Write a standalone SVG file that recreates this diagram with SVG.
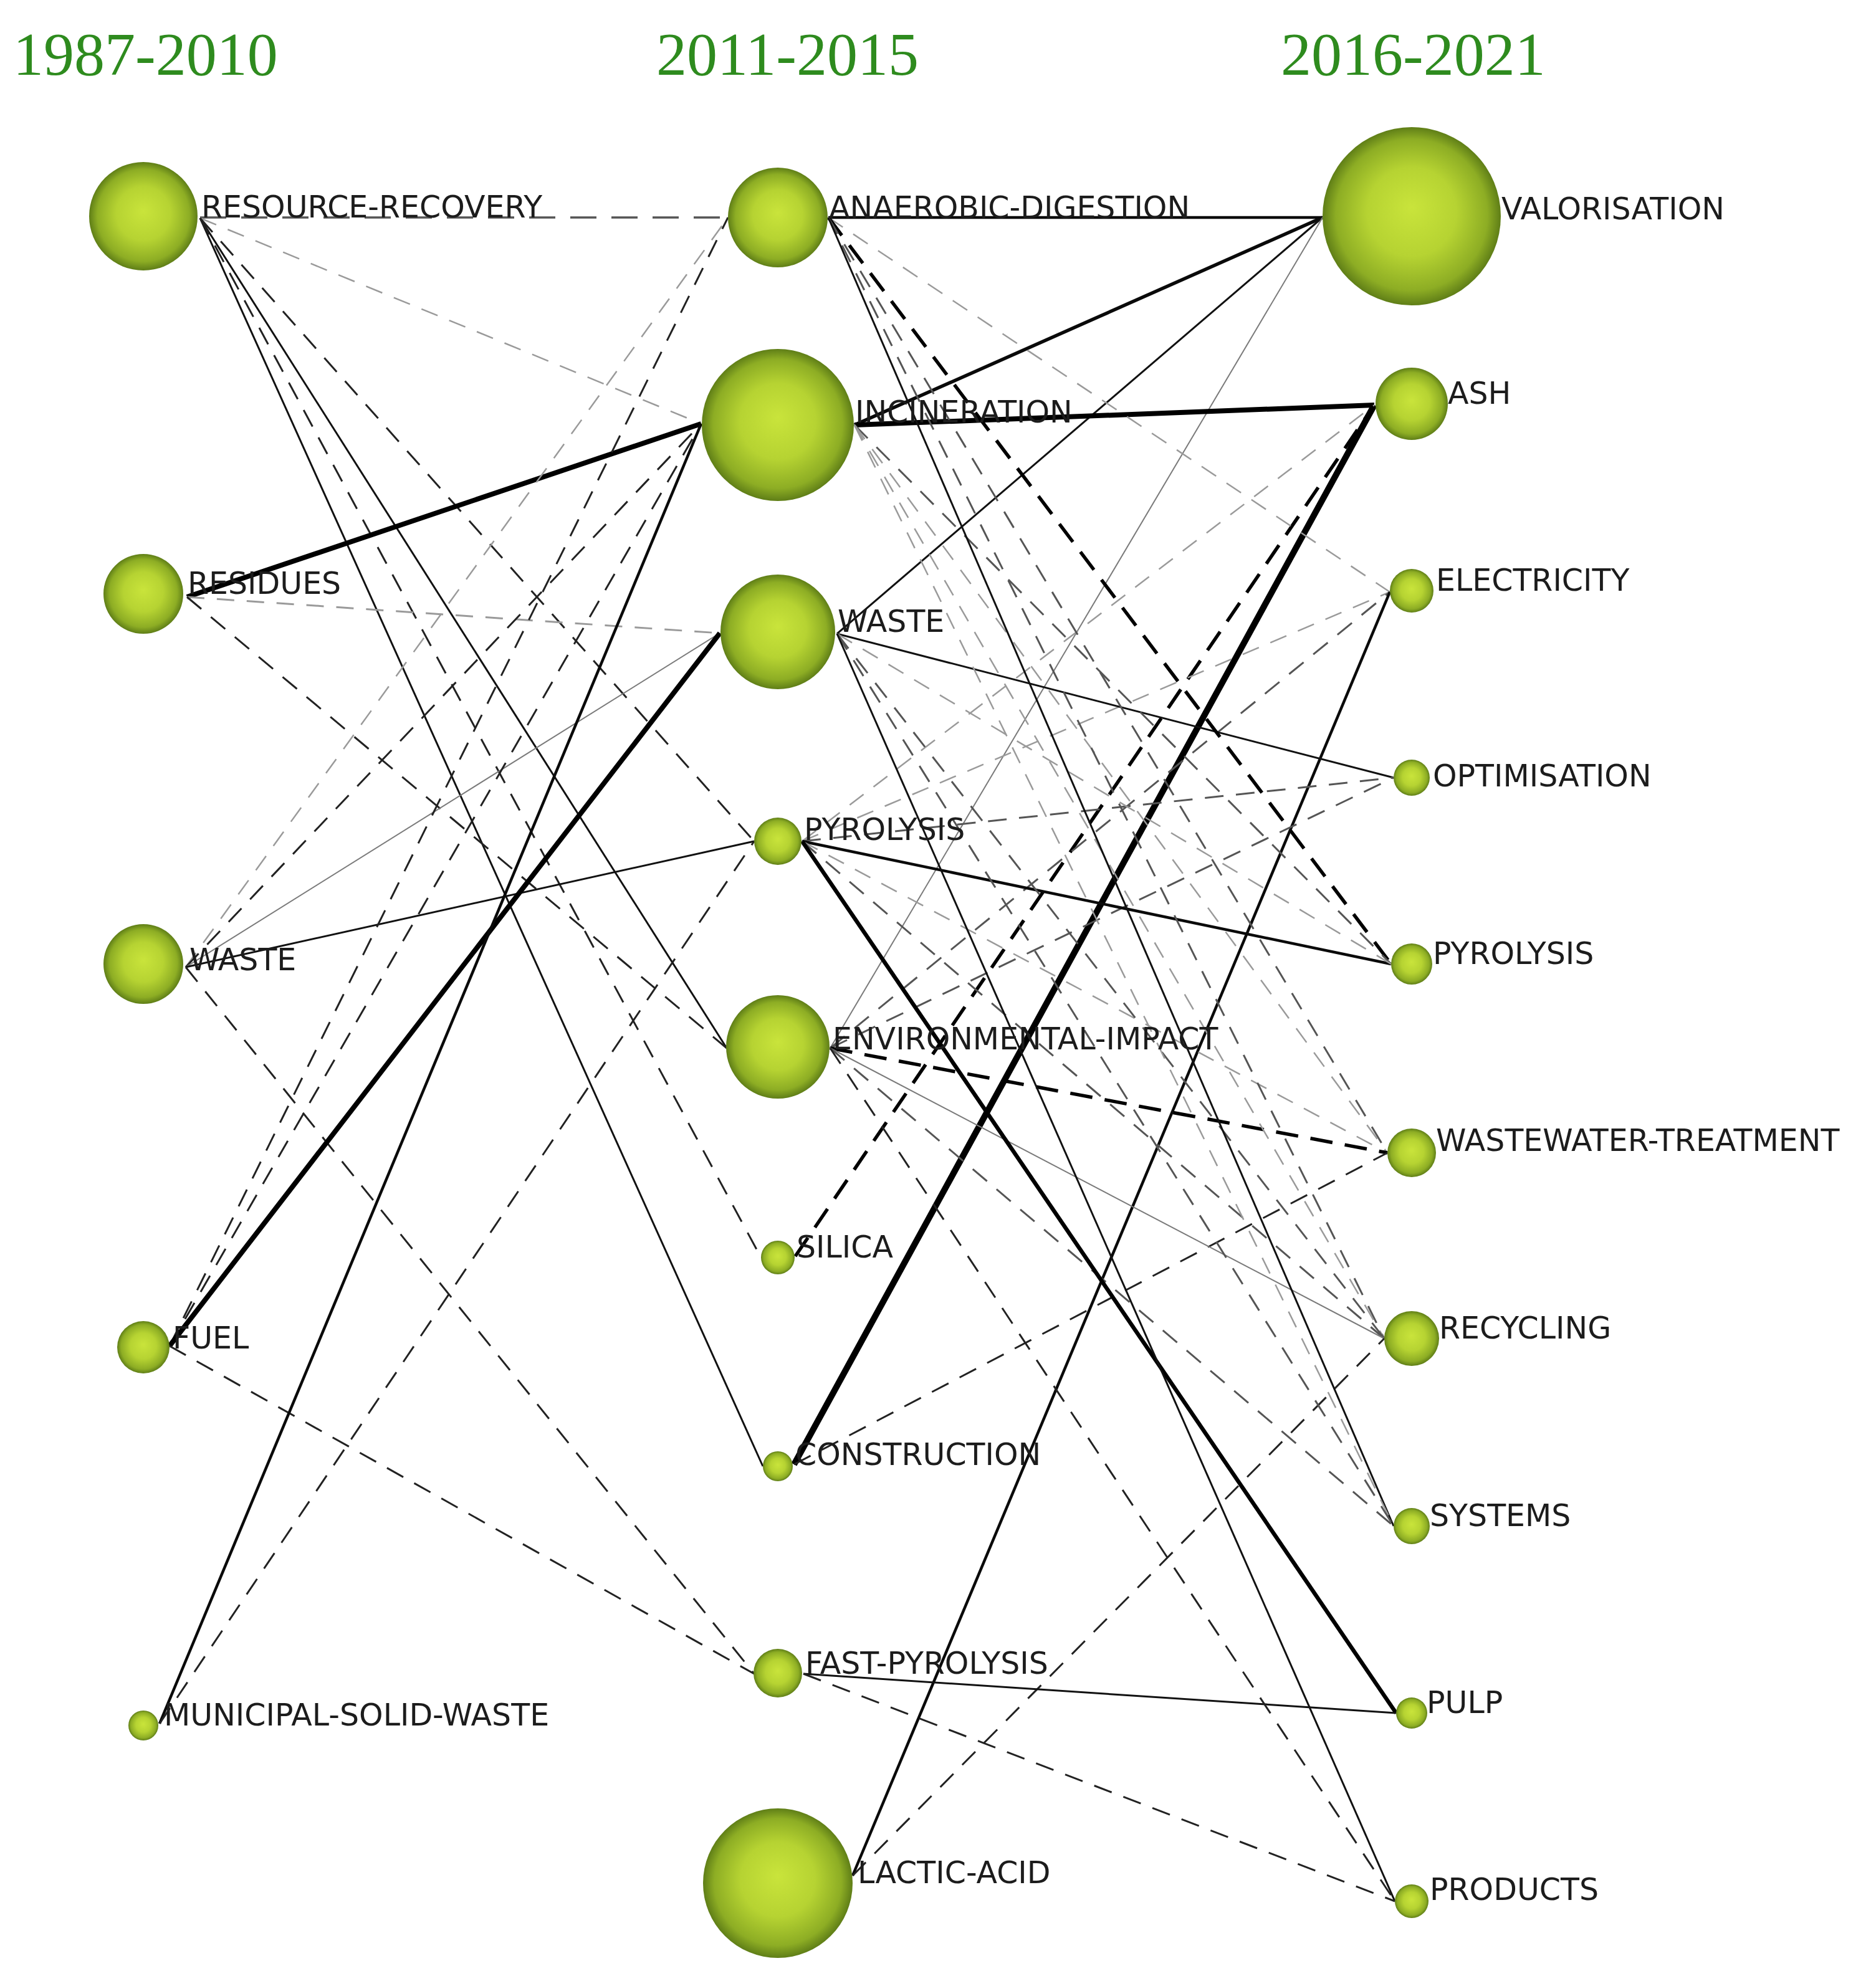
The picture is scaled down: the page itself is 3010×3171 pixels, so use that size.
<svg xmlns="http://www.w3.org/2000/svg" width="3010" height="3171" viewBox="0 0 3010 3171">
<defs>
<radialGradient id="ball" cx="0.5" cy="0.5" r="0.5" fx="0.5" fy="0.45">
<stop offset="0" stop-color="#c9e43b"/>
<stop offset="0.5" stop-color="#b6d332"/>
<stop offset="0.85" stop-color="#8dad24"/>
<stop offset="1" stop-color="#5f7e17"/>
</radialGradient>
<style>
.title{font-family:"Liberation Serif",serif;font-size:98px;fill:#2e8b1e}
.lbl{font-family:"DejaVu Sans",Verdana,sans-serif;font-size:49px;fill:#1c1c1c}
.node{fill:url(#ball)}
#edges line{fill:none;stroke-linecap:butt}
.s1{stroke:#111;stroke-width:3}
.s2{stroke:#0a0a0a;stroke-width:4.5}
.s3{stroke:#000;stroke-width:8}
.s4{stroke:#000;stroke-width:10}
.sg{stroke:#7a7a7a;stroke-width:2}
.d1{stroke:#222;stroke-width:3;stroke-dasharray:30 20}
.d2{stroke:#555;stroke-width:3;stroke-dasharray:30 20}
.dl{stroke:#555;stroke-width:3.5;stroke-dasharray:42 24}
.d3{stroke:#9a9a9a;stroke-width:2.5;stroke-dasharray:28 20}
.d4{stroke:#000;stroke-width:5.5;stroke-dasharray:36 20}
</style>
</defs>
<rect width="3010" height="3171" fill="#fff"/>
<g id="titles">
<text class="title" x="21" y="120">1987-2010</text>
<text class="title" x="1053" y="120">2011-2015</text>
<text class="title" x="2055" y="120">2016-2021</text>
</g>
<g id="edges">
<line class="dl" x1="321" y1="349" x2="1168" y2="349"/>
<line class="d3" x1="321" y1="350" x2="1125" y2="680"/>
<line class="s1" x1="321" y1="350" x2="1224" y2="2353"/>
<line class="s1" x1="321" y1="350" x2="1166" y2="1682"/>
<line class="d1" x1="321" y1="350" x2="1221" y2="2018"/>
<line class="d1" x1="321" y1="350" x2="1210" y2="1350"/>
<line class="s3" x1="300" y1="958" x2="1125" y2="680"/>
<line class="d3" x1="300" y1="958" x2="1155" y2="1016" style="stroke-width:3"/>
<line class="d1" x1="300" y1="958" x2="1166" y2="1682"/>
<line class="d3" x1="298" y1="1552" x2="1168" y2="349"/>
<line class="d1" x1="298" y1="1552" x2="1125" y2="680"/>
<line class="sg" x1="298" y1="1552" x2="1155" y2="1016"/>
<line class="s1" x1="298" y1="1552" x2="1210" y2="1350"/>
<line class="d1" x1="298" y1="1552" x2="1210" y2="2686"/>
<line class="d1" x1="272" y1="2160" x2="1168" y2="349"/>
<line class="d1" x1="272" y1="2160" x2="1125" y2="680"/>
<line class="s3" x1="272" y1="2160" x2="1155" y2="1016"/>
<line class="d1" x1="272" y1="2160" x2="1210" y2="2686"/>
<line class="s2" x1="256" y1="2766" x2="1125" y2="680"/>
<line class="d1" x1="256" y1="2766" x2="1210" y2="1350"/>
<line class="s2" x1="1329" y1="349" x2="2122" y2="349"/>
<line class="s2" x1="1371" y1="682" x2="2122" y2="349" style="stroke-width:5.5"/>
<line class="s1" x1="1343" y1="1017" x2="2122" y2="349"/>
<line class="sg" x1="1332" y1="1682" x2="2122" y2="349"/>
<line class="s3" x1="1371" y1="682" x2="2205" y2="650"/>
<line class="s4" x1="1274" y1="2350" x2="2205" y2="650"/>
<line class="d4" x1="1276" y1="2016" x2="2205" y2="650"/>
<line class="d3" x1="1287" y1="1350" x2="2205" y2="650"/>
<line class="d3" x1="1329" y1="349" x2="2230" y2="950"/>
<line class="d3" x1="1287" y1="1350" x2="2230" y2="950"/>
<line class="d2" x1="1332" y1="1682" x2="2230" y2="950"/>
<line class="s2" x1="1368" y1="3010" x2="2230" y2="950"/>
<line class="s1" x1="1343" y1="1017" x2="2236" y2="1248"/>
<line class="d2" x1="1287" y1="1350" x2="2236" y2="1248"/>
<line class="d2" x1="1332" y1="1682" x2="2236" y2="1248"/>
<line class="s2" x1="1287" y1="1350" x2="2232" y2="1547"/>
<line class="d4" x1="1329" y1="349" x2="2232" y2="1547"/>
<line class="d2" x1="1371" y1="682" x2="2232" y2="1547"/>
<line class="d3" x1="1343" y1="1017" x2="2232" y2="1547"/>
<line class="d2" x1="1329" y1="349" x2="2226" y2="1850"/>
<line class="d3" x1="1371" y1="682" x2="2226" y2="1850"/>
<line class="d3" x1="1287" y1="1350" x2="2226" y2="1850"/>
<line class="d4" x1="1332" y1="1682" x2="2226" y2="1850"/>
<line class="d1" x1="1274" y1="2350" x2="2226" y2="1850"/>
<line class="d2" x1="1329" y1="349" x2="2221" y2="2148"/>
<line class="d3" x1="1371" y1="682" x2="2221" y2="2148"/>
<line class="d2" x1="1343" y1="1017" x2="2221" y2="2148"/>
<line class="d2" x1="1287" y1="1350" x2="2221" y2="2148"/>
<line class="sg" x1="1332" y1="1682" x2="2221" y2="2148"/>
<line class="d1" x1="1368" y1="3010" x2="2221" y2="2148"/>
<line class="s1" x1="1329" y1="349" x2="2236" y2="2449"/>
<line class="d3" x1="1371" y1="682" x2="2236" y2="2449"/>
<line class="d2" x1="1343" y1="1017" x2="2236" y2="2449"/>
<line class="d2" x1="1332" y1="1682" x2="2236" y2="2449"/>
<line class="s3" x1="1287" y1="1350" x2="2240" y2="2749" style="stroke-width:6.5"/>
<line class="s1" x1="1289" y1="2686" x2="2240" y2="2749"/>
<line class="s1" x1="1343" y1="1017" x2="2238" y2="3051"/>
<line class="d1" x1="1332" y1="1682" x2="2238" y2="3051"/>
<line class="d1" x1="1289" y1="2686" x2="2238" y2="3051"/>
</g>
<g id="n-resource-recovery"><circle class="node" cx="230" cy="347" r="87"/><text class="lbl" x="323" y="349">RESOURCE-RECOVERY</text></g>
<g id="n-residues"><circle class="node" cx="230" cy="953" r="64"/><text class="lbl" x="301" y="953">RESIDUES</text></g>
<g id="n-waste-1"><circle class="node" cx="230" cy="1547" r="64"/><text class="lbl" x="304" y="1557">WASTE</text></g>
<g id="n-fuel"><circle class="node" cx="230" cy="2162" r="42"/><text class="lbl" x="277" y="2164">FUEL</text></g>
<g id="n-municipal-solid-waste"><circle class="node" cx="230" cy="2769" r="24"/><text class="lbl" x="263" y="2769">MUNICIPAL-SOLID-WASTE</text></g>
<g id="n-anaerobic-digestion"><circle class="node" cx="1248" cy="349" r="80"/><text class="lbl" x="1330" y="350">ANAEROBIC-DIGESTION</text></g>
<g id="n-incineration"><circle class="node" cx="1248" cy="682" r="122"/><text class="lbl" x="1372" y="678">INCINERATION</text></g>
<g id="n-waste-2"><circle class="node" cx="1248" cy="1014" r="92"/><text class="lbl" x="1344" y="1014">WASTE</text></g>
<g id="n-pyrolysis-2"><circle class="node" cx="1248" cy="1350" r="38"/><text class="lbl" x="1290" y="1348">PYROLYSIS</text></g>
<g id="n-environmental-impact"><circle class="node" cx="1248" cy="1680" r="83"/><text class="lbl" x="1336" y="1684">ENVIRONMENTAL-IMPACT</text></g>
<g id="n-silica"><circle class="node" cx="1248" cy="2018" r="27"/><text class="lbl" x="1278" y="2018">SILICA</text></g>
<g id="n-construction"><circle class="node" cx="1248" cy="2353" r="24"/><text class="lbl" x="1276" y="2351">CONSTRUCTION</text></g>
<g id="n-fast-pyrolysis"><circle class="node" cx="1248" cy="2685" r="39"/><text class="lbl" x="1292" y="2686">FAST-PYROLYSIS</text></g>
<g id="n-lactic-acid"><circle class="node" cx="1248" cy="3022" r="120"/><text class="lbl" x="1376" y="3022">LACTIC-ACID</text></g>
<g id="n-valorisation"><circle class="node" cx="2265" cy="347" r="143"/><text class="lbl" x="2409" y="352">VALORISATION</text></g>
<g id="n-ash"><circle class="node" cx="2265" cy="648" r="58"/><text class="lbl" x="2323" y="648">ASH</text></g>
<g id="n-electricity"><circle class="node" cx="2265" cy="948" r="35"/><text class="lbl" x="2304" y="948">ELECTRICITY</text></g>
<g id="n-optimisation"><circle class="node" cx="2265" cy="1248" r="29"/><text class="lbl" x="2299" y="1262">OPTIMISATION</text></g>
<g id="n-pyrolysis-3"><circle class="node" cx="2265" cy="1547" r="33"/><text class="lbl" x="2299" y="1547">PYROLYSIS</text></g>
<g id="n-wastewater-treatment"><circle class="node" cx="2265" cy="1850" r="39"/><text class="lbl" x="2304" y="1847">WASTEWATER-TREATMENT</text></g>
<g id="n-recycling"><circle class="node" cx="2265" cy="2148" r="44"/><text class="lbl" x="2309" y="2148">RECYCLING</text></g>
<g id="n-systems"><circle class="node" cx="2265" cy="2449" r="29"/><text class="lbl" x="2294" y="2449">SYSTEMS</text></g>
<g id="n-pulp"><circle class="node" cx="2265" cy="2749" r="25"/><text class="lbl" x="2289" y="2749">PULP</text></g>
<g id="n-products"><circle class="node" cx="2265" cy="3051" r="27"/><text class="lbl" x="2294" y="3049">PRODUCTS</text></g>
</svg>
